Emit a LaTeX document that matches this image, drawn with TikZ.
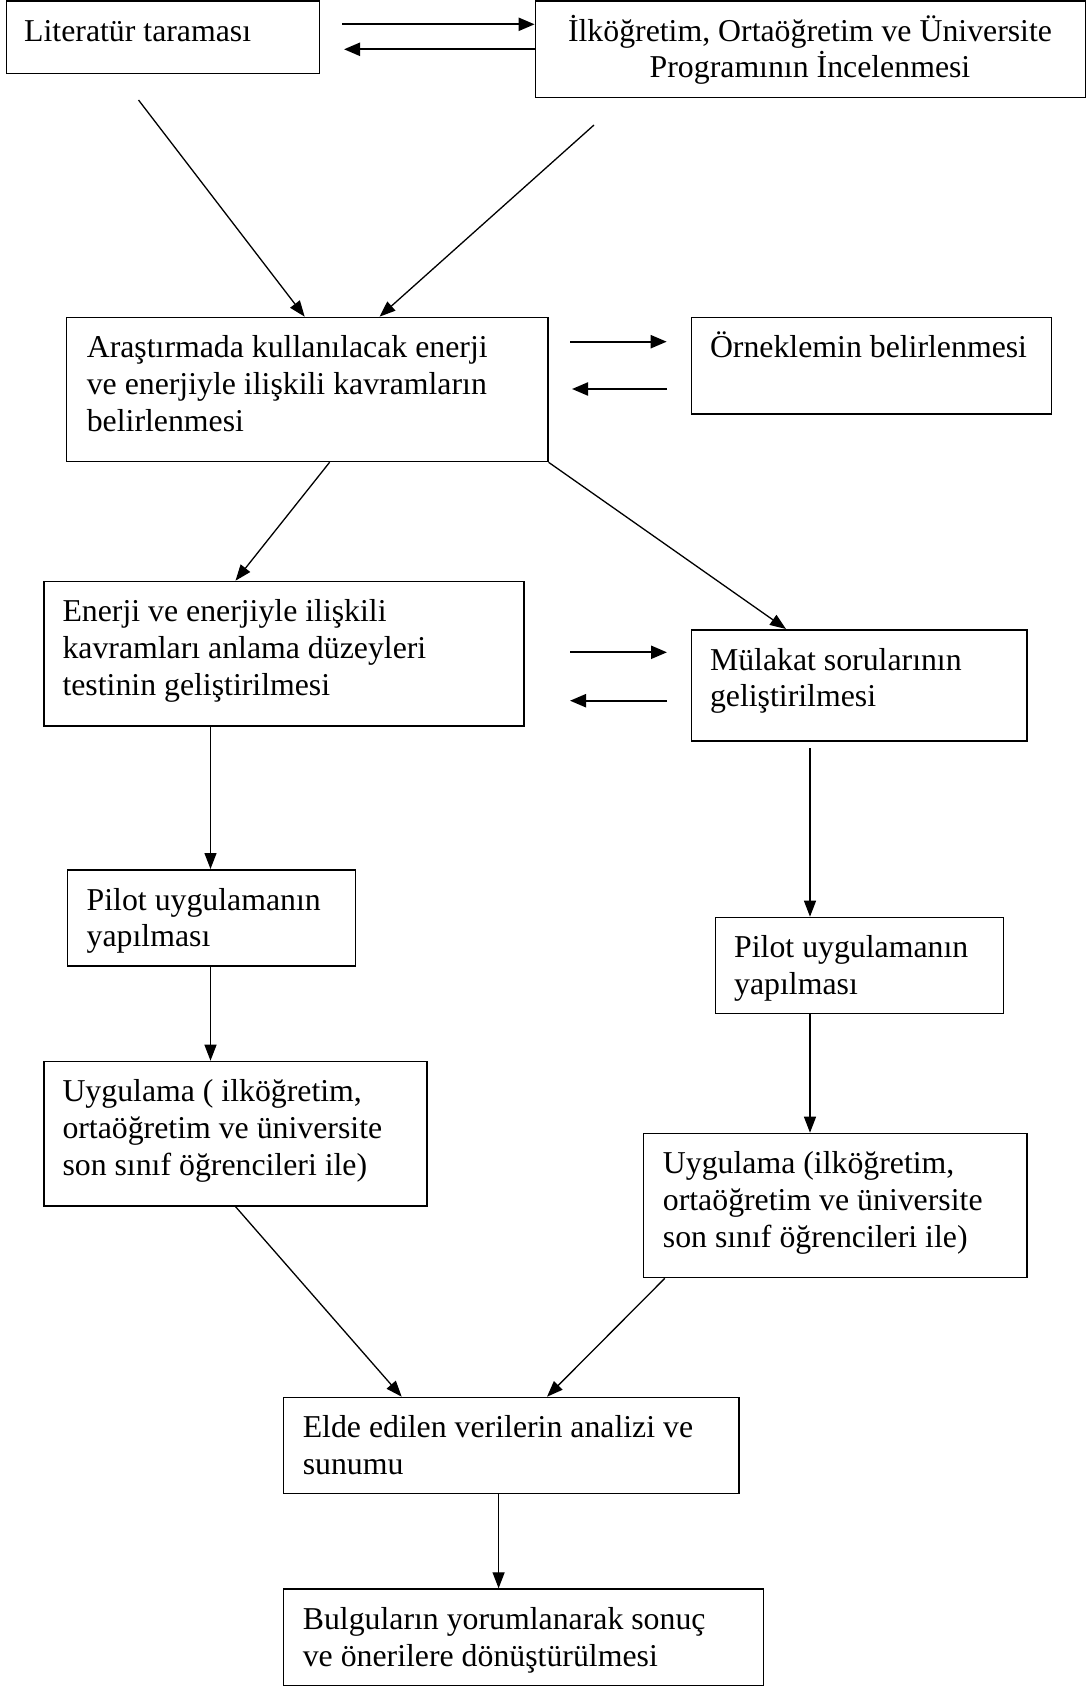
\documentclass[tikz,border=0pt]{standalone}
\usepackage{fontspec}
\setmainfont{Liberation Serif}
\usetikzlibrary{arrows.meta,calc}
\newcommand\lblstrut{\rule{0pt}{30pt}}
\begin{document}
\begin{tikzpicture}[x=1pt,y=-1pt,
  box/.style={draw, line width=1.6pt, inner sep=0pt, anchor=north west},
  lbl/.style={inner sep=0pt, anchor=north west, align=left,
              font=\fontsize{31.8}{36.7}\selectfont},
  flow/.style={line width=1.3pt, -{Triangle[length=16pt,width=12pt]}},
  pair/.style={line width=2.2pt, -{Triangle[length=16pt,width=13pt]}}]
\useasboundingbox (0,0) rectangle (1086,1686);

% boxes
\node[box, minimum width=313pt,   minimum height=72.7pt]  (b1)  at (5.5,0) {};
\node[box, minimum width=550pt,   minimum height=96.7pt]  (b2)  at (534.6,0) {};
\node[box, minimum width=481.2pt, minimum height=144pt]   (b3)  at (65.8,316.7) {};
\node[box, minimum width=360pt,   minimum height=96.6pt]  (b4)  at (690.5,316.7) {};
\node[box, minimum width=480pt,   minimum height=144.3pt] (b5)  at (43,580.7) {};
\node[box, minimum width=335.8pt, minimum height=111pt]   (b6)  at (690.5,629) {};
\node[box, minimum width=288pt,   minimum height=96pt]    (b7)  at (66.5,869) {};
\node[box, minimum width=288pt,   minimum height=96pt]    (b8)  at (714.7,916.7) {};
\node[box, minimum width=383pt,   minimum height=144.3pt] (b9)  at (43,1060.7) {};
\node[box, minimum width=383.6pt, minimum height=144pt]   (b10) at (642.7,1132.7) {};
\node[box, minimum width=455.7pt, minimum height=96pt]    (b11) at (282.5,1396.7) {};
\node[box, minimum width=480pt,   minimum height=96.7pt]  (b12) at (282.5,1588.3) {};

% box texts
\node[lbl] (t1) at ($(b1.north west)+(18.5,11)$) {\lblstrut Literatür taraması};
\node[lbl, anchor=north, align=center] (t2) at (810,11)
  {\lblstrut İlköğretim, Ortaöğretim ve Üniversite\\Programının İncelenmesi};
\node[lbl] (t3) at ($(b3.north west)+(20.8,11)$)
  {\lblstrut Araştırmada kullanılacak enerji\\ve enerjiyle ilişkili kavramların\\belirlenmesi};
\node[lbl] (t4) at ($(b4.north west)+(19.3,11)$) {\lblstrut Örneklemin belirlenmesi};
\node[lbl] (t5) at ($(b5.north west)+(19.3,11)$)
  {\lblstrut Enerji ve enerjiyle ilişkili\\kavramları anlama düzeyleri\\testinin geliştirilmesi};
\node[lbl] (t6) at ($(b6.north west)+(19.3,11)$)
  {\lblstrut Mülakat sorularının\\geliştirilmesi};
\node[lbl] (t7) at ($(b7.north west)+(20,11)$)
  {\lblstrut Pilot uygulamanın\\yapılması};
\node[lbl] (t8) at ($(b8.north west)+(19.3,11)$)
  {\lblstrut Pilot uygulamanın\\yapılması};
\node[lbl] (t9) at ($(b9.north west)+(19.3,11)$)
  {\lblstrut Uygulama ( ilköğretim,\\ortaöğretim ve üniversite\\son sınıf öğrencileri ile)};
\node[lbl] (t10) at ($(b10.north west)+(20,11)$)
  {\lblstrut Uygulama (ilköğretim,\\ortaöğretim ve üniversite\\son sınıf öğrencileri ile)};
\node[lbl] (t11) at ($(b11.north west)+(20.1,11)$)
  {\lblstrut Elde edilen verilerin analizi ve\\sunumu};
\node[lbl] (t12) at ($(b12.north west)+(20.1,11)$)
  {\lblstrut Bulguların yorumlanarak sonuç\\ve önerilere dönüştürülmesi};

% free ends of the connectors
\coordinate (p1) at (342,24.3);
\coordinate (p2) at (344,49.3);
\coordinate (d1) at (138.5,100);
\coordinate (d2) at (594,125);
\coordinate (q1s) at (570,341.7);
\coordinate (q1e) at (666.7,341.7);
\coordinate (q2s) at (667,389);
\coordinate (q2e) at (572,389);
\coordinate (r1s) at (570,652.3);
\coordinate (r1e) at (667,652.3);
\coordinate (r2s) at (667,700.7);
\coordinate (r2e) at (570,700.7);
\coordinate (v1) at (810,748.3);

% connectors
\draw[pair] (p1) -- (p1 -| b2.west);
\draw[pair] (p2 -| b2.west) -- (p2);
\draw[flow] (d1) -- ($(b3.north west)+(238.9,0)$);
\draw[flow] (d2) -- ($(b3.north west)+(313.7,0)$);
\draw[pair] (q1s) -- (q1e);
\draw[pair] (q2s) -- (q2e);
\draw[flow] ($(b3.south west)+(263.8,0)$) -- ($(b5.north west)+(192.5,0)$);
\draw[flow] (b3.south east) -- ($(b6.north west)+(95.5,0)$);
\draw[pair] (r1s) -- (r1e);
\draw[pair] (r2s) -- (r2e);
\draw[flow] ($(b5.south west)+(167.5,0)$) -- ($(b7.north west)+(144,0)$);
\draw[flow] (v1) -- (v1 |- b8.north);
\draw[flow] ($(b7.south west)+(144,0)$) -- ($(b9.north west)+(167.5,0)$);
\draw[flow] (v1 |- b8.south) -- (v1 |- b10.north);
\draw[flow] ($(b9.south west)+(192.5,0)$) -- ($(b11.north west)+(119.2,0)$);
\draw[flow] ($(b10.south west)+(22.1,0)$) -- ($(b11.north west)+(264.5,0)$);
\draw[flow] ($(b11.south west)+(216.1,0)$) -- ($(b12.north west)+(216.1,0)$);
\end{tikzpicture}
\end{document}
